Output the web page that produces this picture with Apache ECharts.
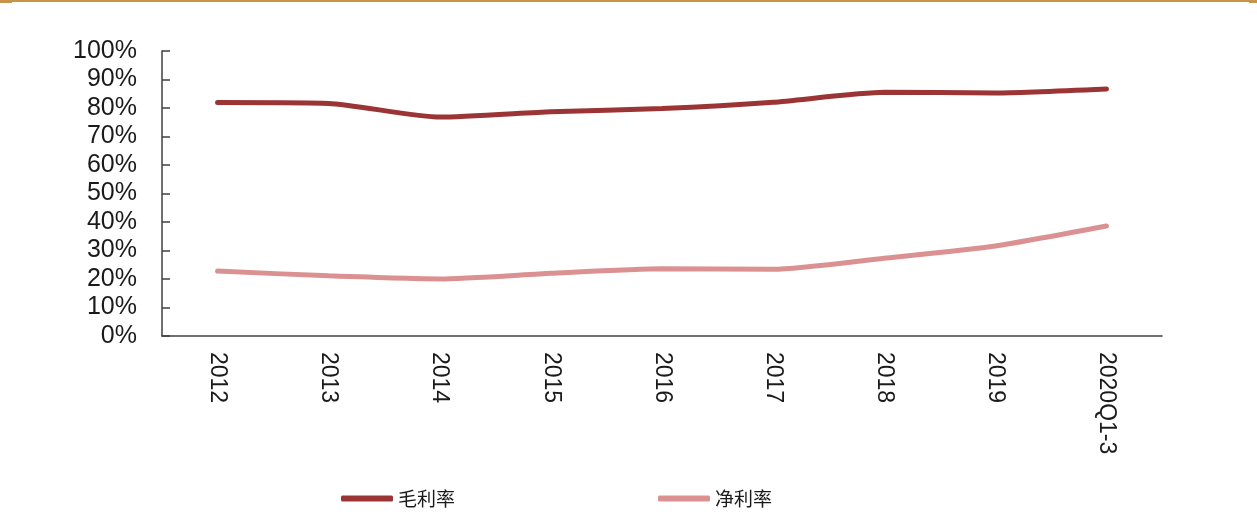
<!DOCTYPE html>
<html>
<head>
<meta charset="utf-8">
<script src="https://cdn.jsdelivr.net/npm/echarts@6/dist/echarts.min.js"></script>
<style>
  html, body { margin: 0; padding: 0; background: #fff; }
  #chart { width: 1257px; height: 532px; }
</style>
</head>
<body>
<div id="chart"></div>
<script>
// 年份
const categories = ['2012', '2013', '2014', '2015', '2016', '2017', '2018', '2019', '2020Q1-3']
// 毛利率 (%)
const grossMargin = [81.9, 81.6, 76.8, 78.7, 79.8, 82.0, 85.5, 85.3, 86.7]
// 净利率 (%)
const netMargin = [22.8, 21.1, 20.0, 22.0, 23.6, 23.4, 27.3, 31.6, 38.6]

const axisColor = '#404040'
const chart = echarts.init(document.getElementById('chart'))
const option = {
  animation: false,
  backgroundColor: '#fff',
  graphic: [
    // 顶部装饰线
    { type: 'rect', left: 0, top: 0, shape: { width: 1257, height: 2 }, style: { fill: '#C8944A' } },
    { type: 'rect', left: 0, top: 0, shape: { width: 12, height: 3 }, style: { fill: '#C8944A' } },
    { type: 'rect', right: 0, top: 0, shape: { width: 8, height: 3 }, style: { fill: '#C8944A' } }
  ],
  grid: {
    left: 162,
    right: 95,
    top: 51,
    bottom: 196
  },
  legend: {
    left: 336,
    top: 484,
    icon: 'roundRect',
    itemWidth: 52,
    itemHeight: 6,
    itemGap: 203,
    textStyle: {
      fontFamily: 'Noto Sans CJK SC',
      fontSize: 19,
      color: '#1a1a1a'
    },
    data: ['毛利率', '净利率']
  },
  xAxis: {
    type: 'category',
    data: categories,
    axisLine: { lineStyle: { color: axisColor, width: 1.5 } },
    axisTick: { inside: true, length: 7, lineStyle: { color: axisColor, width: 1.5 } },
    axisLabel: {
      rotate: -90,
      margin: 16,
      fontFamily: 'Liberation Sans',
      fontSize: 23,
      color: '#1a1a1a'
    }
  },
  yAxis: {
    type: 'value',
    min: 0,
    max: 100,
    interval: 10,
    axisLine: { show: true, lineStyle: { color: axisColor, width: 1.5 } },
    axisTick: { show: true, inside: true, length: 8, lineStyle: { color: axisColor, width: 1.5 } },
    splitLine: { show: false },
    axisLabel: {
      formatter: '{value}%',
      margin: 25,
      fontFamily: 'Liberation Sans',
      fontSize: 25,
      color: '#1a1a1a'
    }
  },
  series: [
    {
      name: '毛利率',
      type: 'line',
      data: grossMargin,
      smooth: 0.2,
      symbol: 'none',
      itemStyle: { color: '#9B3535' },
      lineStyle: { color: '#9B3535', width: 5, cap: 'round' }
    },
    {
      name: '净利率',
      type: 'line',
      data: netMargin,
      smooth: 0.2,
      symbol: 'none',
      itemStyle: { color: '#DB9191' },
      lineStyle: { color: '#DB9191', width: 5, cap: 'round' }
    }
  ]
}
chart.setOption(option)
</script>
</body>
</html>
